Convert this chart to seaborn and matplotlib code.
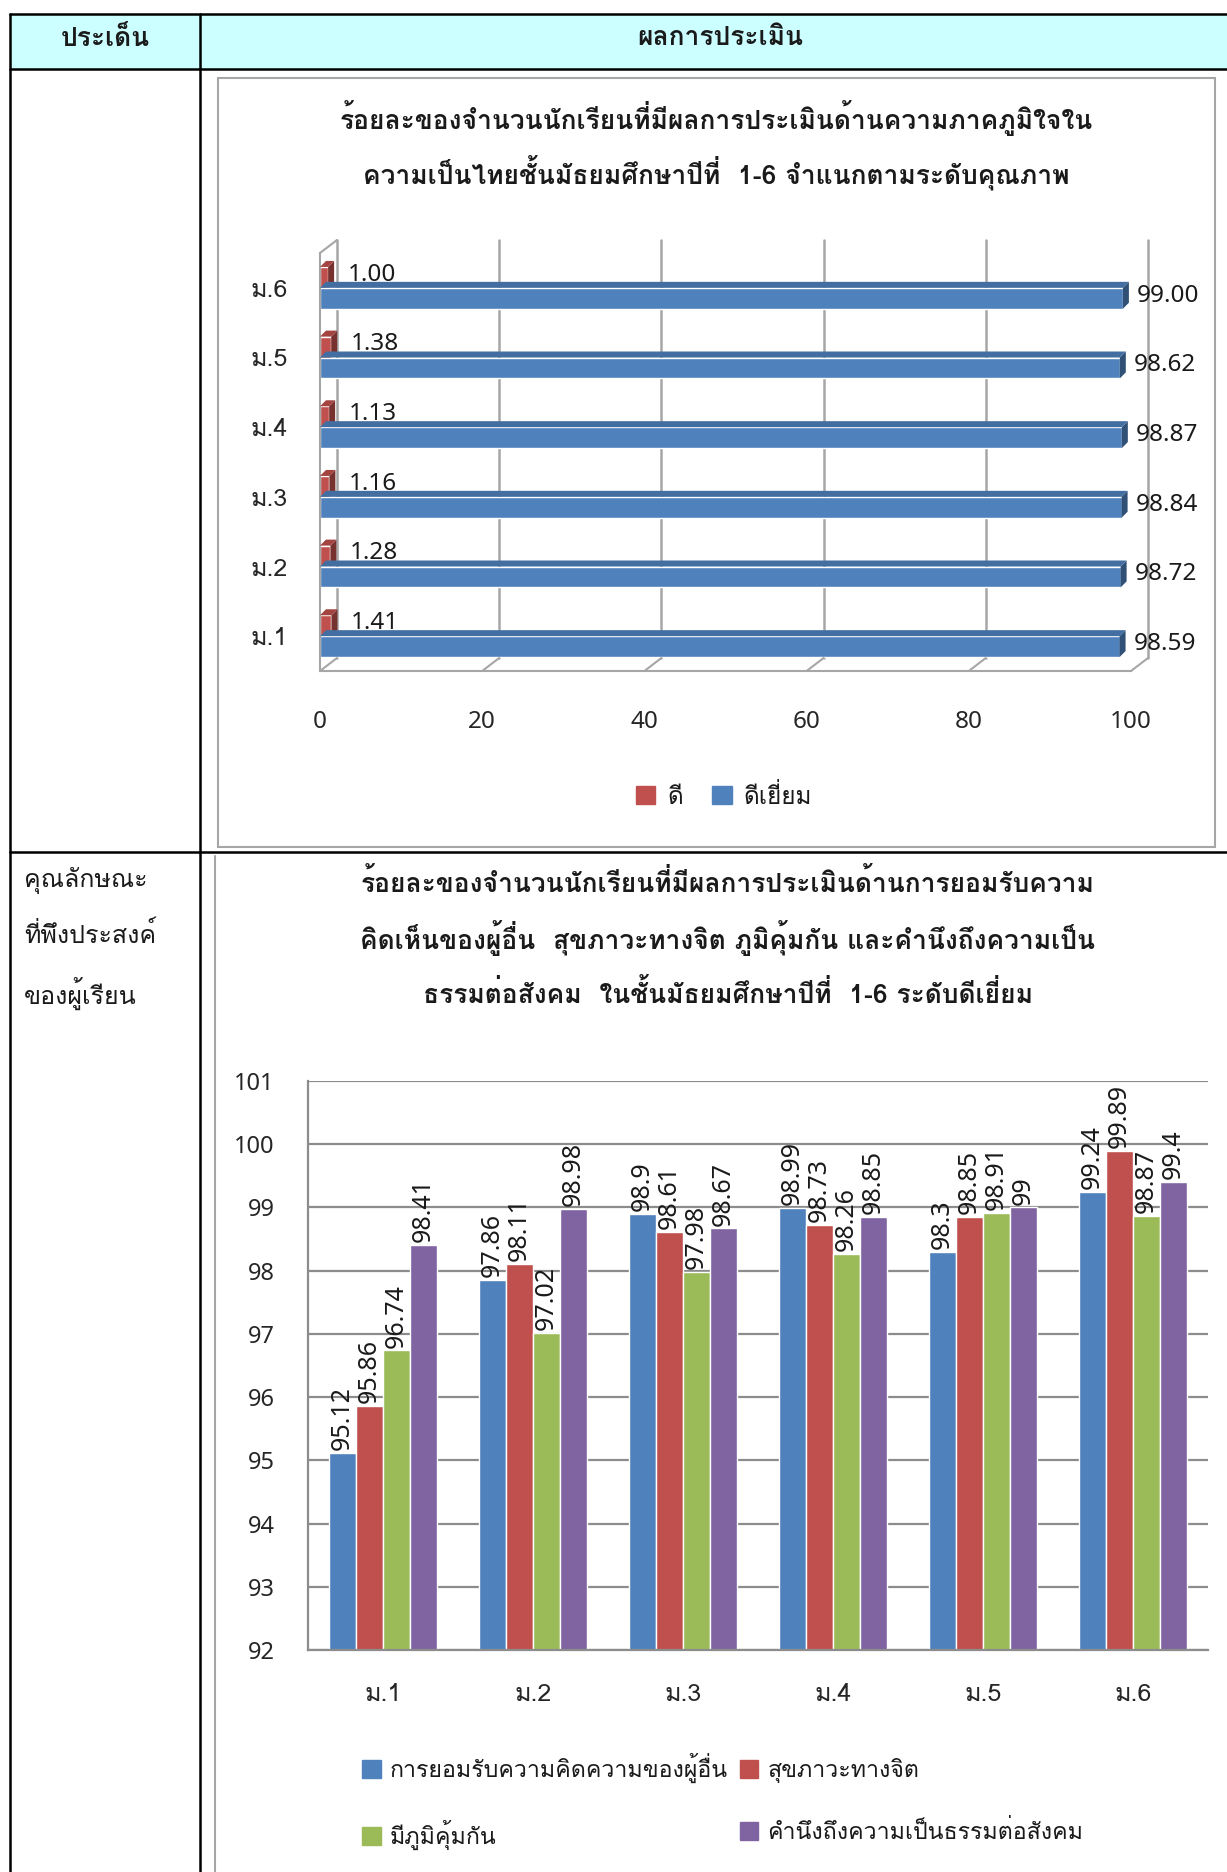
import numpy as np
import pandas as pd
import seaborn as sns
import matplotlib.pyplot as plt
from matplotlib.patches import Rectangle, Patch, Polygon
from matplotlib.lines import Line2D
from matplotlib.transforms import IdentityTransform, offset_copy

# chart 1 data
levels1 = ['ม.6', 'ม.5', 'ม.4', 'ม.3', 'ม.2', 'ม.1']
good = [1.00, 1.38, 1.13, 1.16, 1.28, 1.41]
excellent = [99.00, 98.62, 98.87, 98.84, 98.72, 98.59]
quality = ['ดี', 'ดีเยี่ยม']

# chart 2 data
levels2 = ['ม.1', 'ม.2', 'ม.3', 'ม.4', 'ม.5', 'ม.6']
accept = [95.12, 97.86, 98.9, 98.99, 98.3, 99.24]
mental = [95.86, 98.11, 98.61, 98.73, 98.85, 99.89]
immune = [96.74, 97.02, 97.98, 98.26, 98.91, 98.87]
fairness = [98.41, 98.98, 98.67, 98.85, 99.0, 99.4]
aspects = ['การยอมรับความคิดความของผู้อื่น', 'สุขภาวะทางจิต', 'มีภูมิคุ้มกัน',
           'คำนึงถึงความเป็นธรรมต่อสังคม']

RED, BLUE, GREEN, PURPLE = '#C0504D', '#4F81BD', '#9BBB59', '#8064A2'

sns.set_style('white')
# numbers in Noto Sans, Thai text in Loma (stacks the tone marks properly)
NUM = ['Noto Sans', 'DejaVu Sans']
THAI = ['Loma', 'DejaVu Sans']
plt.rcParams['font.family'] = NUM
plt.rcParams['text.color'] = '#1A1A1A'

W, H = 1227, 1872
fig = plt.figure(figsize=(W / 100, H / 100), dpi=100)
fx = lambda x: x / W
fy = lambda y: 1 - y / H


def fline(x0, y0, x1, y1, color='black', lw=1.8):
    fig.add_artist(Line2D([fx(x0), fx(x1)], [fy(y0), fy(y1)], transform=fig.transFigure,
                          color=color, lw=lw))


# table
fig.add_artist(Rectangle((fx(10), fy(69)), 1, (69 - 14) / H, transform=fig.transFigure,
                         facecolor='#CCFFFF', edgecolor='none'))
fline(10, 14, W, 14)
fline(10, 69, W, 69)
fline(10, 852, W, 852)
fline(10, 14, 10, H)
fline(200, 14, 200, H)
fig.text(fx(105), fy(38), 'ประเด็น', ha='center', va='center', fontsize=19, weight='bold',
         family=THAI)
fig.text(fx(720), fy(38), 'ผลการประเมิน', ha='center', va='center', fontsize=19, weight='bold',
         family=THAI)

for txt, y in zip(['คุณลักษณะ', 'ที่พึงประสงค์', 'ของผู้เรียน'], [880, 935, 993]):
    fig.text(fx(24), fy(y), txt, ha='left', va='center', fontsize=18, family=THAI)

# chart 1 frame and title
fig.add_artist(Rectangle((fx(218), fy(847)), (1215 - 218) / W, (847 - 78) / H,
                         transform=fig.transFigure, facecolor='none', edgecolor='#A6A6A6', lw=1.5))
fig.text(fx(716), fy(118), 'ร้อยละของจำนวนนักเรียนที่มีผลการประเมินด้านความภาคภูมิใจใน',
         ha='center', va='center', fontsize=19, weight='bold', family=THAI)
fig.text(fx(716), fy(173), 'ความเป็นไทยชั้นมัธยมศึกษาปีที่  1-6 จำแนกตามระดับคุณภาพ',
         ha='center', va='center', fontsize=19, weight='bold', family=THAI)

df1 = pd.DataFrame({'level': levels1 * 2, 'value': good + excellent,
                    'quality': [quality[0]] * 6 + [quality[1]] * 6})
ax1 = fig.add_axes([fx(320), fy(671), (1131 - 320) / W, (671 - 253) / H])
sns.barplot(data=df1, y='level', x='value', hue='quality', order=levels1, hue_order=quality,
            palette=[RED, BLUE], orient='h', width=0.6, gap=0, saturation=1,
            errorbar=None, legend=False, ax=ax1)
ax1.set_xlim(0, 100)
ax1.set_ylim(5.5, -0.5)
ax1.set_xlabel('')
ax1.set_ylabel('')
ax1.set_xticks([0, 20, 40, 60, 80, 100])
ax1.set_yticks(range(6))
ax1.set_yticks(np.arange(-0.5, 6, 1), minor=True)
ax1.tick_params(axis='x', length=8, width=1.5, color='#A6A6A6', pad=20, labelsize=17.5)
ax1.tick_params(axis='y', which='major', length=0, pad=23, labelsize=18)
ax1.tick_params(axis='y', which='minor', length=8, width=1.5, color='#A6A6A6')
for lab in ax1.get_yticklabels():
    lab.set_family(THAI)
for s in ['top', 'right']:
    ax1.spines[s].set_visible(False)
for s in ['left', 'bottom']:
    ax1.spines[s].set_color('#A6A6A6')
    ax1.spines[s].set_linewidth(1.5)

# back wall of the 3d look
back = offset_copy(ax1.transData, fig=fig, x=17, y=13, units='dots')
for v in [0, 20, 40, 60, 80, 100]:
    ax1.plot([v, v], [-0.5, 5.5], transform=back, color='#A6A6A6', lw=1.8, clip_on=False, zorder=0)
    p = ax1.transData.transform((v, 5.5))
    fig.add_artist(Line2D([p[0], p[0] + 17], [p[1], p[1] + 13], transform=IdentityTransform(),
                          color='#A6A6A6', lw=1.5))
p = ax1.transData.transform((0, -0.5))
fig.add_artist(Line2D([p[0], p[0] + 17], [p[1], p[1] + 13], transform=IdentityTransform(),
                      color='#A6A6A6', lw=1.5))

# bar depth faces and labels
for bar in list(ax1.patches):
    x0, y0 = ax1.transData.transform((bar.get_x(), bar.get_y() + bar.get_height()))
    x1, y1 = ax1.transData.transform((bar.get_x() + bar.get_width(), bar.get_y()))
    col = np.array(bar.get_facecolor()[:3])
    d, e = 6, 6
    fig.add_artist(Polygon([(x1, y0), (x1 + d, y0 + e), (x1 + d, y1 + e), (x1, y1)],
                           closed=True, transform=IdentityTransform(), facecolor=col * 0.62,
                           edgecolor='none'))
    fig.add_artist(Polygon([(x0, y1), (x0 + d, y1 + e), (x1 + d, y1 + e), (x1, y1)],
                           closed=True, transform=IdentityTransform(),
                           facecolor=np.clip(col * 0.85, 0, 1), edgecolor='none'))
    val = bar.get_width()
    yc = bar.get_y() + bar.get_height() / 2
    off = 14 if val < 50 else 10
    ax1.annotate(f'{val:.2f}', xy=(val, yc), xytext=(off, 2), textcoords='offset points',
                 ha='left', va='center', fontsize=17.5)

fig.legend(handles=[Patch(color=RED, label=quality[0]), Patch(color=BLUE, label=quality[1])],
           ncol=2, loc='center', bbox_to_anchor=(fx(724), fy(796)), frameon=False,
           prop={'family': THAI, 'size': 17.5}, handlelength=0.8, handleheight=0.8,
           handletextpad=0.5, columnspacing=1.2)

# chart 2
fline(215, 856, 215, H, color='#A6A6A6', lw=1.5)
titles2 = ['ร้อยละของจำนวนนักเรียนที่มีผลการประเมินด้านการยอมรับความ',
           'คิดเห็นของผู้อื่น  สุขภาวะทางจิต ภูมิคุ้มกัน และคำนึงถึงความเป็น',
           'ธรรมต่อสังคม  ในชั้นมัธยมศึกษาปีที่  1-6 ระดับดีเยี่ยม']
for txt, y in zip(titles2, [883, 938, 994]):
    fig.text(fx(728), fy(y), txt, ha='center', va='center', fontsize=19, weight='bold',
             family=THAI)

df2 = pd.DataFrame({'level': levels2 * 4, 'value': accept + mental + immune + fairness,
                    'aspect': [a for a in aspects for _ in levels2]})
ax2 = fig.add_axes([fx(308), fy(1650), (1208 - 308) / W, (1650 - 1081) / H])
sns.barplot(data=df2, x='level', y='value', hue='aspect', order=levels2, hue_order=aspects,
            palette=[BLUE, RED, GREEN, PURPLE], width=0.72, gap=0, saturation=1,
            errorbar=None, legend=False, ax=ax2)
ax2.set_ylim(92, 101)
ax2.set_xlim(-0.5, 5.5)
ax2.set_xlabel('')
ax2.set_ylabel('')
ax2.set_yticks(range(92, 102))
ax2.set_xticks(np.arange(-0.5, 6, 1), minor=True)
ax2.yaxis.grid(True, color='#8C8C8C', lw=1.6)
ax2.set_axisbelow(True)
ax2.tick_params(axis='y', length=7, width=1.5, color='#8C8C8C', pad=17, labelsize=17)
ax2.tick_params(axis='x', which='major', length=0, pad=24, labelsize=18)
ax2.tick_params(axis='x', which='minor', length=10, width=1.5, color='#8C8C8C')
for lab in ax2.get_xticklabels():
    lab.set_family(THAI)
for s in ['top', 'right']:
    ax2.spines[s].set_visible(False)
for s in ['left', 'bottom']:
    ax2.spines[s].set_color('#8C8C8C')
    ax2.spines[s].set_linewidth(1.6)

for bar in ax2.patches:
    h = bar.get_height()
    ax2.annotate(f'{h:g}', xy=(bar.get_x() + bar.get_width() / 2, h), xytext=(0, 2),
                 textcoords='offset points', rotation=90, ha='center', va='bottom', fontsize=18)

fig.legend(handles=[Patch(color=BLUE, label=aspects[0]), Patch(color=GREEN, label=aspects[2]),
                    Patch(color=RED, label=aspects[1]), Patch(color=PURPLE, label=aspects[3])],
           ncol=2, loc='upper left', bbox_to_anchor=(fx(362), fy(1753)), frameon=False,
           prop={'family': THAI, 'size': 16.7}, handlelength=0.8, handleheight=0.8,
           handletextpad=0.4, columnspacing=0.5, labelspacing=1.6, borderpad=0, borderaxespad=0)

fig.savefig('out.png', dpi=100)
